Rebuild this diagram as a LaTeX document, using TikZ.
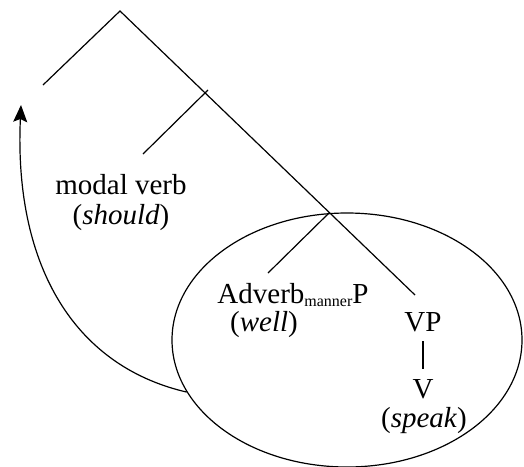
\documentclass[tikz,border=0pt]{standalone}
\usepackage{fontspec}
\setmainfont{Liberation Serif}
\usetikzlibrary{shapes.geometric,arrows.meta}

\begin{document}
\begin{tikzpicture}[x=1pt,y=-1pt,
    lbl/.style={font=\fontsize{29}{30}\selectfont, align=center, inner sep=0pt},
    every path/.style={line width=1.2pt}]
    \useasboundingbox (0,0) rectangle (524,466);
    \coordinate (top) at (120,11);
    \coordinate (l1) at (43,85);
    \coordinate (m1s) at (208,90);
    \coordinate (mod) at (143,154);
    \coordinate (m2) at (329,213);
    \coordinate (adv) at (268,273);
    \coordinate (vpt) at (415,295);
    \node[lbl] (n0) at (121,203) {modal verb\\(\textit{should})};
    \node[lbl, anchor=base] (n1) at (293,303) {Adverb\raisebox{-3pt}{\fontsize{16}{16}\selectfont manner}P};
    \node[lbl, anchor=base] (n2) at (264,331) {(\textit{well})};
    \node[lbl] (n3) at (423,322) {VP};
    \node[lbl] (n4) at (423,389) {V};
    \node[lbl] (n5) at (424,421) {(\textit{speak})};
    \node[draw, ellipse, minimum width=350, minimum height=254, inner sep=0pt] (dom) at (347,340) {};
    \draw (l1) -- (top) -- (vpt);
    \draw (m1s) -- (mod);
    \draw (m2) -- (adv);
    \draw ([yshift=-9pt]n3.south) -- ([yshift=10pt]n4.north);
    \draw[-{Stealth[length=17pt,width=14pt,inset=3pt]}] (dom.198) .. controls (70,365) and (14,260) .. (21,105);
  \end{tikzpicture}
\end{document}
